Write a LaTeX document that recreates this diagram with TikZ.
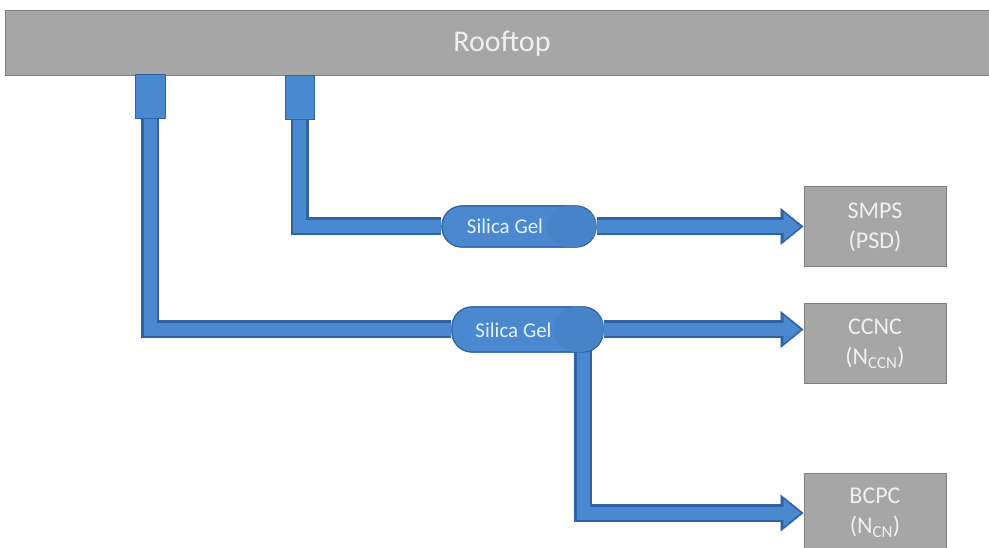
\documentclass[tikz,border=0pt]{standalone}
\usepackage{fontspec}
\setmainfont{Carlito}
\usetikzlibrary{arrows.meta,shapes.geometric}
\definecolor{pipemid}{RGB}{74,137,207}
\definecolor{pipedark}{RGB}{46,100,166}
\definecolor{capend}{RGB}{70,131,200}
\definecolor{roofgray}{RGB}{166,166,166}
\definecolor{roofedge}{RGB}{128,128,128}
\definecolor{txtlight}{RGB}{240,240,240}
\definecolor{capsuletxt}{RGB}{226,240,255}
\begin{document}
\begin{tikzpicture}[x=1pt,y=-1pt,
  roof/.style={rectangle,fill=roofgray,draw=roofedge,line width=1pt,inner sep=0pt,
    text=txtlight,font=\fontsize{30}{36}\selectfont},
  instbox/.style={rectangle,fill=roofgray,draw=roofedge,line width=1pt,
    minimum width=142pt,minimum height=80pt,inner sep=0pt,align=center,
    text=txtlight,font=\fontsize{24}{30}\selectfont},
  inlet/.style={rectangle,fill=pipemid,draw=pipedark,line width=1pt,
    minimum width=30pt,minimum height=44pt,inner sep=0pt},
  capsule/.style={rectangle,rounded corners=20pt,fill=pipemid,draw=pipedark,
    line width=1.2pt,inner sep=0pt},
  capend/.style={ellipse,fill=capend,draw=pipedark!80,line width=0.6pt,inner sep=0pt,
    minimum width=50pt},
  caplabel/.style={inner sep=0pt,text=capsuletxt,font=\fontsize{21}{25}\selectfont},
  pipeouter/.style={draw=pipedark,line width=18pt},
  pipeinner/.style={draw=pipemid,line width=13pt},
  arrowouter/.style={pipeouter,-{Triangle[width=37pt,length=23pt,line width=0.5pt]}},
  arrowinner/.style={pipeinner,shorten >=3pt,-{Triangle[width=28pt,length=17pt,line width=0.5pt]}},
]
\useasboundingbox (0,0) rectangle (989,548);

% roof and inlets
\node[roof,minimum width=994pt,minimum height=65pt] (roof) at (502,43.5) {Rooftop};
\node[inlet] (inA) at (150,97) {};
\node[inlet,minimum width=29pt] (inB) at (299.5,97.5) {};

% capsules and instruments
\node[capsule,minimum width=154pt,minimum height=41pt] (cap1) at (519,226.5) {};
\node[capsule,minimum width=151pt,minimum height=45pt] (cap2) at (527.5,329.5) {};
\node[instbox] (smps) at (875,227) {SMPS\\(PSD)};
\node[instbox] (ccnc) at (875,343.5) {CCNC\\(N\textsubscript{CCN})};
\node[instbox] (bcpc) at (875,513) {BCPC\\(N\textsubscript{CN})};
\coordinate (drop) at (583,340);

% pipes
\draw[pipeouter] (inA.south) |- (cap2.west);
\draw[pipeinner] (inA.south) |- (cap2.west);
\draw[pipeouter] (inB.south) |- (cap1.west);
\draw[pipeinner] (inB.south) |- (cap1.west);
\draw[arrowouter] (cap1.east) -- (smps.west |- cap1.east);
\draw[arrowinner] (cap1.east) -- (smps.west |- cap1.east);
\draw[arrowouter] (cap2.east) -- (ccnc.west |- cap2.east);
\draw[arrowinner] (cap2.east) -- (ccnc.west |- cap2.east);
\draw[arrowouter] (drop) |- (bcpc.west);
\draw[arrowinner] (drop) |- (bcpc.west);

% capsules on top of the pipes
\node[capsule,minimum width=154pt,minimum height=41pt] (cap1top) at (cap1) {};
\node[capend,minimum height=41pt,anchor=east] (end1) at (cap1.east) {};
\node[caplabel] (lab1) at (505,226) {Silica Gel};
\node[capsule,minimum width=151pt,minimum height=45pt] (cap2top) at (cap2) {};
\node[capend,minimum height=45pt,anchor=east] (end2) at (cap2.east) {};
\node[caplabel] (lab2) at (513.5,330) {Silica Gel};

% inlets on top
\node[inlet] (inAtop) at (inA) {};
\node[inlet,minimum width=29pt] (inBtop) at (inB) {};
\end{tikzpicture}
\end{document}
